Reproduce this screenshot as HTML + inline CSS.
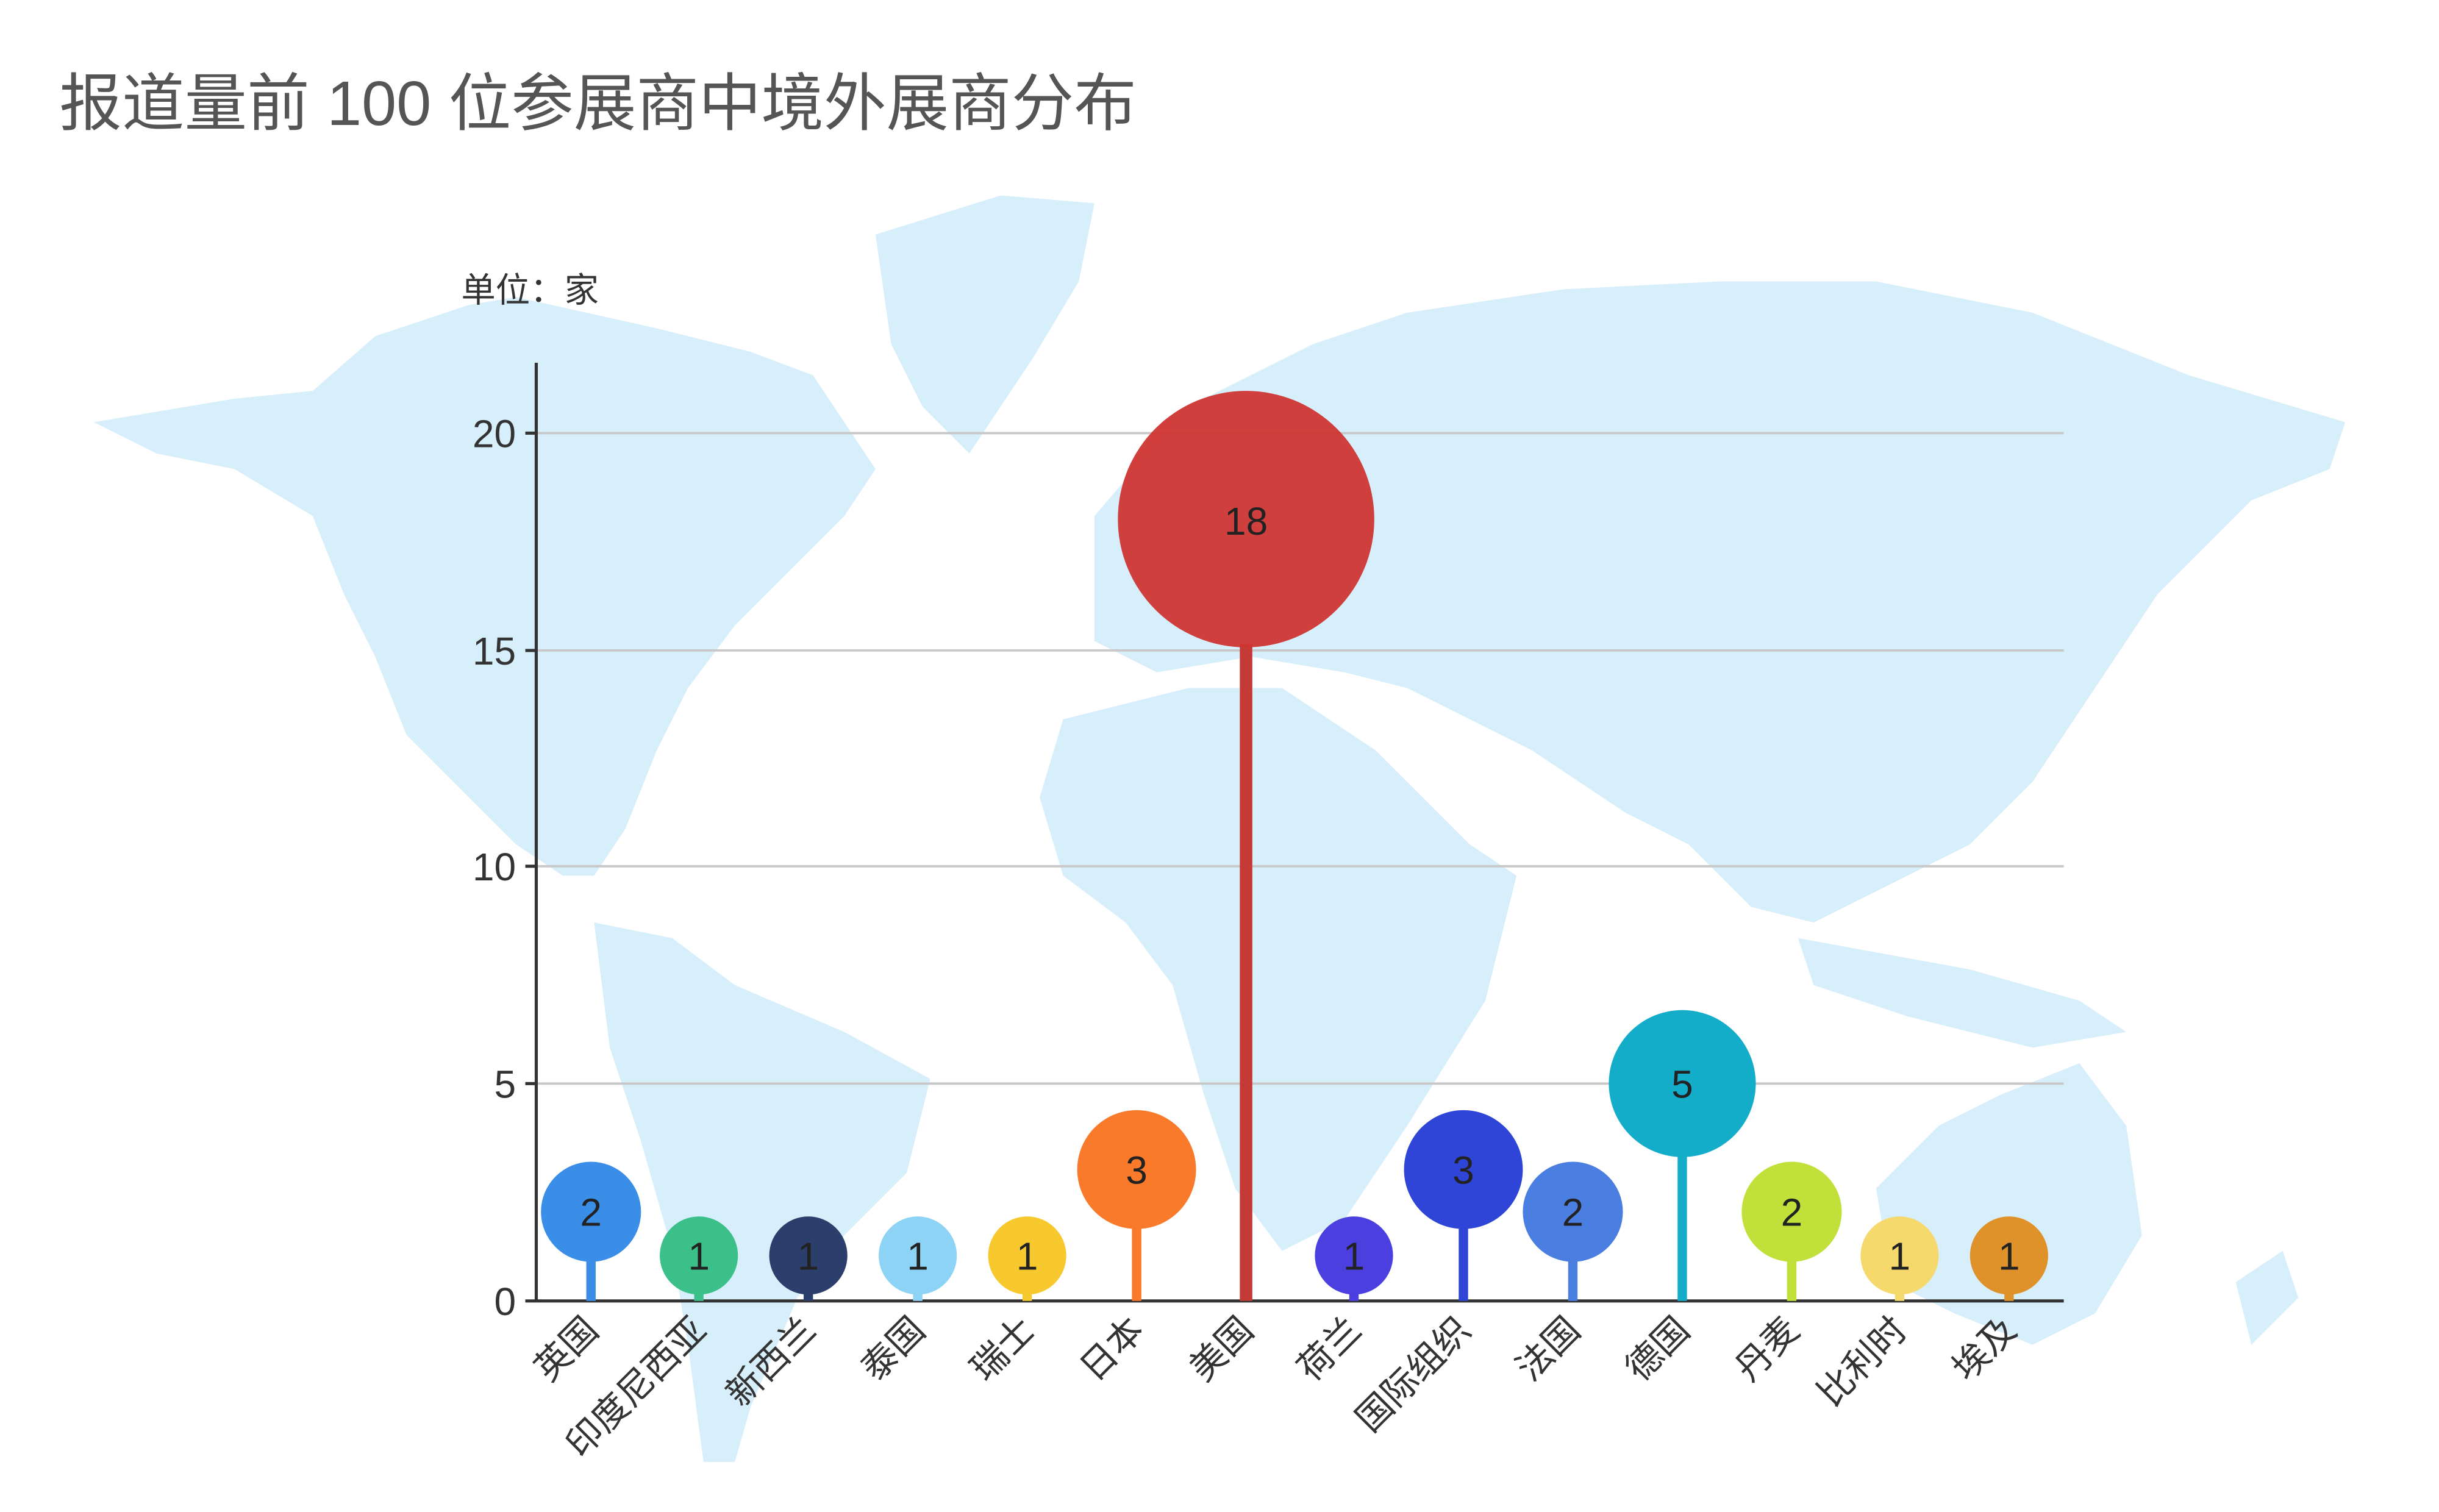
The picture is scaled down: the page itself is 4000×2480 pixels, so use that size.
<!DOCTYPE html>
<html><head><meta charset="utf-8"><style>
html,body{margin:0;padding:0;background:#fff;}
svg{display:block;}
text{font-family:"Liberation Sans","Noto Sans CJK SC",sans-serif;}
</style></head><body>
<svg width="4000" height="2480" viewBox="0 0 1560 967" preserveAspectRatio="none" xmlns="http://www.w3.org/2000/svg">
<g fill="#d7eefb">
<path d="M60,270 L150,255 L200,250 L240,215 L300,195 L330,190 L420,210 L480,225 L520,240 L560,300 L540,330 L520,350 L470,400 L440,440 L420,480 L400,530 L380,560 L360,560 L330,540 L300,510 L260,470 L240,420 L220,380 L200,330 L150,300 L100,290 Z"/>
<path d="M560,150 L640,125 L700,130 L690,180 L660,230 L620,290 L590,260 L570,220 Z"/>
<path d="M380,590 L430,600 L470,630 L540,660 L595,690 L580,750 L540,790 L510,830 L480,900 L470,935 L450,935 L440,860 L430,800 L410,730 L390,670 Z"/>
<path d="M700,330 L760,260 L840,220 L900,200 L1000,185 L1100,180 L1200,180 L1300,200 L1400,240 L1500,270 L1490,300 L1440,320 L1380,380 L1340,440 L1300,500 L1260,540 L1200,570 L1160,590 L1120,580 L1080,540 L1040,520 L980,480 L940,460 L900,440 L860,430 L800,420 L740,430 L700,410 Z"/>
<path d="M680,460 L760,440 L820,440 L880,480 L940,540 L970,560 L950,640 L900,720 L860,780 L820,800 L790,760 L770,700 L750,630 L720,590 L680,560 L665,510 Z"/>
<path d="M1200,760 L1240,720 L1280,700 L1330,680 L1360,720 L1370,790 L1340,840 L1300,860 L1250,840 L1210,820 Z"/>
<path d="M1150,600 L1260,620 L1330,640 L1360,660 L1300,670 L1220,650 L1160,630 Z"/>
<path d="M1430,820 L1460,800 L1470,830 L1440,860 Z"/>
</g>
<text x="38" y="80" font-size="40" fill="#555">报道量前 100 位参展商中境外展商分布</text>
<text x="295" y="193" font-size="22" fill="#333">单位：家</text>
<g stroke="#c8c8c8" stroke-width="1.5">
<line x1="343" y1="277" x2="1320" y2="277"/>
<line x1="343" y1="416" x2="1320" y2="416"/>
<line x1="343" y1="554" x2="1320" y2="554"/>
<line x1="343" y1="693" x2="1320" y2="693"/>
</g>
<g stroke="#333" stroke-width="2">
<line x1="343" y1="232" x2="343" y2="832"/>
<line x1="343" y1="832" x2="1320" y2="832"/>
<line x1="336" y1="277" x2="343" y2="277"/>
<line x1="336" y1="416" x2="343" y2="416"/>
<line x1="336" y1="554" x2="343" y2="554"/>
<line x1="336" y1="693" x2="343" y2="693"/>
<line x1="336" y1="832" x2="343" y2="832"/>
</g>
<g font-size="25" fill="#333" text-anchor="end">
<text x="330" y="286">20</text><text x="330" y="425">15</text><text x="330" y="563">10</text><text x="330" y="702">5</text><text x="330" y="841">0</text>
</g>
<g font-size="25" fill="#222" text-anchor="middle">
<rect x="375" y="805" width="6" height="27" fill="#3b8ee8"/><circle cx="378" cy="775" r="32" fill="#3b8ee8"/><text x="378" y="784">2</text>
<rect x="444" y="826" width="6" height="6" fill="#3cc08a"/><circle cx="447" cy="803" r="25" fill="#3cc08a"/><text x="447" y="812">1</text>
<rect x="514" y="826" width="6" height="6" fill="#2c3e6b"/><circle cx="517" cy="803" r="25" fill="#2c3e6b"/><text x="517" y="812">1</text>
<rect x="584" y="826" width="6" height="6" fill="#8dd3f5"/><circle cx="587" cy="803" r="25" fill="#8dd3f5"/><text x="587" y="812">1</text>
<rect x="654" y="826" width="6" height="6" fill="#f7c92e"/><circle cx="657" cy="803" r="25" fill="#f7c92e"/><text x="657" y="812">1</text>
<rect x="724" y="784" width="6" height="48" fill="#f97a2a"/><circle cx="727" cy="748" r="38" fill="#f97a2a"/><text x="727" y="757">3</text>
<rect x="793" y="412" width="8" height="420" fill="#c33a36"/><circle cx="797" cy="332" r="82" fill="#cf3533" opacity="0.95"/><text x="797" y="342">18</text>
<rect x="863" y="826" width="6" height="6" fill="#4b3fe0"/><circle cx="866" cy="803" r="25" fill="#4b3fe0"/><text x="866" y="812">1</text>
<rect x="933" y="784" width="6" height="48" fill="#2f45d8"/><circle cx="936" cy="748" r="38" fill="#2f45d8"/><text x="936" y="757">3</text>
<rect x="1003" y="805" width="6" height="27" fill="#4a7ee0"/><circle cx="1006" cy="775" r="32" fill="#4a7ee0"/><text x="1006" y="784">2</text>
<rect x="1073" y="738" width="6" height="94" fill="#13acc9"/><circle cx="1076" cy="693" r="47" fill="#13acc9"/><text x="1076" y="702">5</text>
<rect x="1143" y="805" width="6" height="27" fill="#c1e03a"/><circle cx="1146" cy="775" r="32" fill="#c1e03a"/><text x="1146" y="784">2</text>
<rect x="1212" y="826" width="6" height="6" fill="#f5d96c"/><circle cx="1215" cy="803" r="25" fill="#f5d96c"/><text x="1215" y="812">1</text>
<rect x="1282" y="826" width="6" height="6" fill="#e0922a"/><circle cx="1285" cy="803" r="25" fill="#e0922a"/><text x="1285" y="812">1</text>
</g>
<g font-size="23" fill="#333" text-anchor="end">
<text transform="translate(384,852) rotate(-45)">英国</text>
<text transform="translate(453,852) rotate(-45)">印度尼西亚</text>
<text transform="translate(523,852) rotate(-45)">新西兰</text>
<text transform="translate(593,852) rotate(-45)">泰国</text>
<text transform="translate(663,852) rotate(-45)">瑞士</text>
<text transform="translate(733,852) rotate(-45)">日本</text>
<text transform="translate(803,852) rotate(-45)">美国</text>
<text transform="translate(872,852) rotate(-45)">荷兰</text>
<text transform="translate(942,852) rotate(-45)">国际组织</text>
<text transform="translate(1012,852) rotate(-45)">法国</text>
<text transform="translate(1082,852) rotate(-45)">德国</text>
<text transform="translate(1152,852) rotate(-45)">丹麦</text>
<text transform="translate(1221,852) rotate(-45)">比利时</text>
<text transform="translate(1291,852) rotate(-45)">埃及</text>
</g>
</svg>
</body></html>
